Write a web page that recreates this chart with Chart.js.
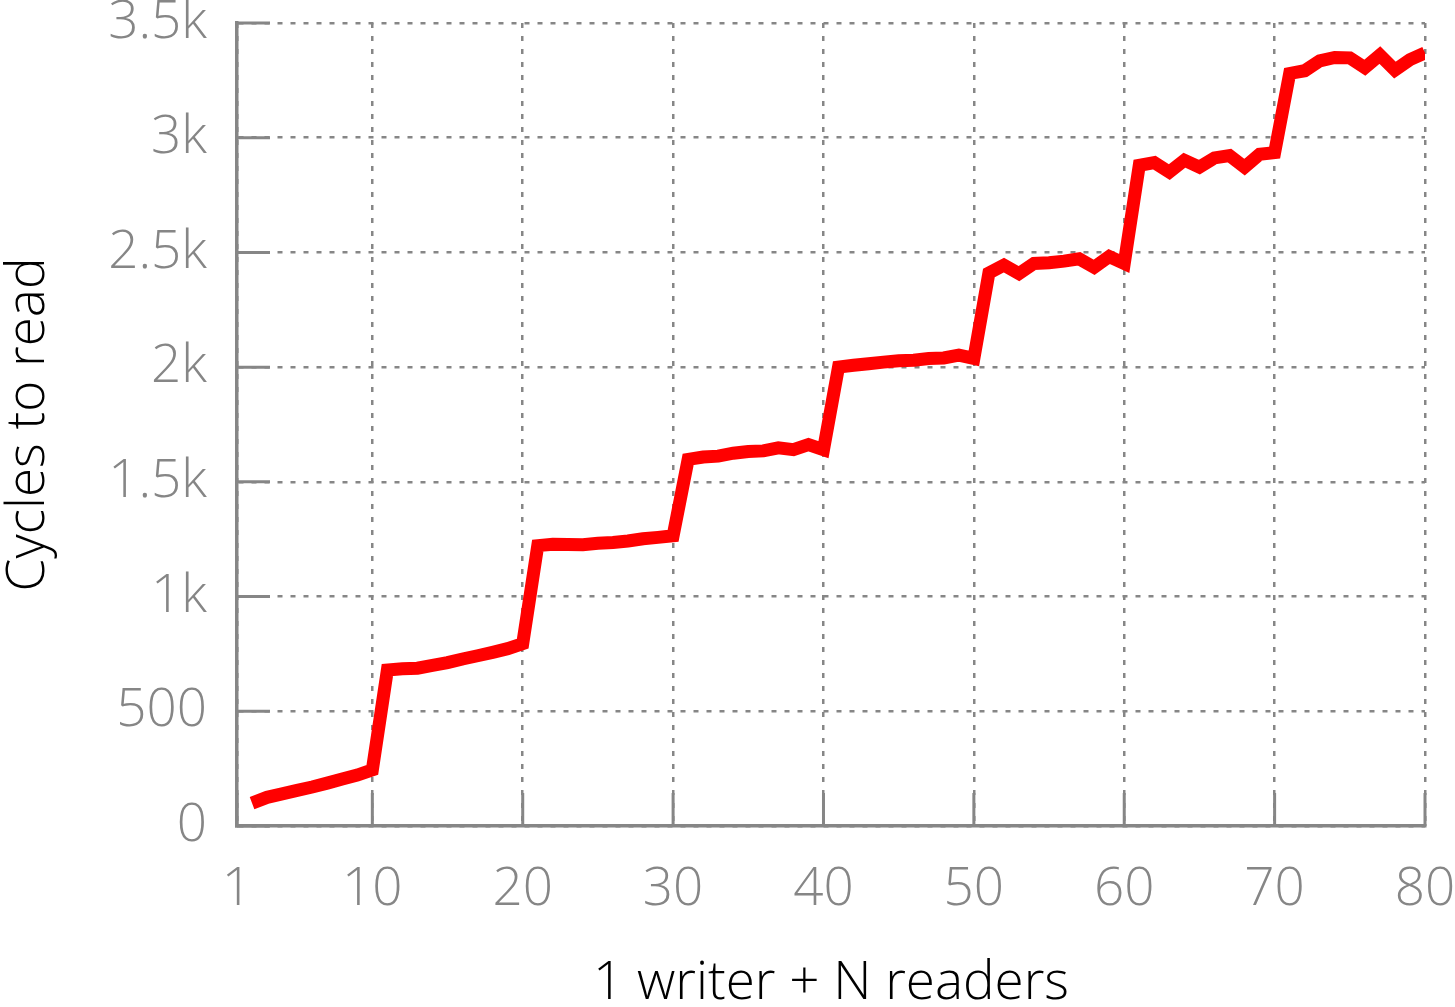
<!DOCTYPE html>
<html>
<head>
<meta charset="utf-8">
<script src="https://cdn.jsdelivr.net/npm/chart.js@4"></script>
<style>
  body { margin: 0; background: #fff; }
  canvas { display: block; }
</style>
</head>
<body>
<canvas id="chart" width="1455" height="1007"></canvas>
<script>
// readers count (x) and cycles to read (y)
const readers = [
    2, 3, 4, 5, 6, 7, 8, 9, 10,
    11, 12, 13, 14, 15, 16, 17, 18, 19, 20,
    21, 22, 23, 24, 25, 26, 27, 28, 29, 30,
    31, 32, 33, 34, 35, 36, 37, 38, 39, 40,
    41, 42, 43, 44, 45, 46, 47, 48, 49, 50,
    51, 52, 53, 54, 55, 56, 57, 58, 59, 60,
    61, 62, 63, 64, 65, 66, 67, 68, 69, 70,
    71, 72, 73, 74, 75, 76, 77, 78, 79, 80
];
const cycles = [
    100, 125, 140, 155, 170, 187, 205, 222, 245,
    680, 685, 688, 700, 712, 728, 742, 757, 773, 795,
    1222, 1228, 1227, 1226, 1232, 1236, 1242, 1252, 1258, 1265,
    1598, 1608, 1612, 1625, 1632, 1635, 1648, 1640, 1662, 1640,
    2000, 2008, 2015, 2022, 2028, 2030, 2038, 2040, 2052, 2038,
    2410, 2445, 2408, 2452, 2455, 2462, 2472, 2435, 2482, 2452,
    2880, 2892, 2850, 2902, 2872, 2912, 2922, 2872, 2928, 2935,
    3280, 3292, 3335, 3350, 3348, 3305, 3360, 3295, 3340, 3370
];
const xTicks = [1, 10, 20, 30, 40, 50, 60, 70, 80];
const yTicks = [0, 500, 1000, 1500, 2000, 2500, 3000, 3500];

const gray = '#868686';
const fontFamily = "'Open Sans', 'DejaVu Sans', sans-serif";
const labelFont = { family: fontFamily, size: 53, weight: 300 };

let points = readers.map((n, i) => ({ x: n, y: cycles[i] }));

// short tick marks pointing into the plot area
const innerTicks = {
    id: 'innerTicks',
    afterDatasetsDraw(chart) {
        const ctx = chart.ctx;
        const area = chart.chartArea;
        const xs = chart.scales.x;
        const ys = chart.scales.y;
        const len = 33;
        ctx.save();
        ctx.strokeStyle = gray;
        ctx.lineWidth = 3;
        ctx.beginPath();
        xTicks.forEach(v => {
            const px = xs.getPixelForValue(v);
            ctx.moveTo(px, area.bottom);
            ctx.lineTo(px, area.bottom - len);
        });
        yTicks.forEach(v => {
            const py = ys.getPixelForValue(v);
            ctx.moveTo(area.left, py);
            ctx.lineTo(area.left + len, py);
        });
        ctx.stroke();
        ctx.restore();
    }
};

const ctx = document.getElementById('chart').getContext('2d');
const myChart = new Chart(ctx, {
    type: 'line',
    data: {
        datasets: [{
            label: 'Cycles to read',
            data: points,
            borderColor: '#ff0000',
            borderWidth: 13,
            pointRadius: 0,
            fill: false,
            tension: 0
        }]
    },
    options: {
        responsive: false,
        animation: false,
        layout: { padding: { top: 23, right: 30, left: 0, bottom: 0 } },
        plugins: {
            legend: { display: false },
            tooltip: { enabled: false }
        },
        scales: {
            x: {
                type: 'linear',
                min: 1,
                max: 80,
                afterBuildTicks: scale => {
                    scale.ticks = xTicks.map(v => ({ value: v }));
                },
                afterFit: scale => {
                    scale.height = 181;
                    scale.paddingLeft = 0;
                    scale.paddingRight = 0;
                },
                grid: {
                    color: gray,
                    lineWidth: 2.5,
                    drawTicks: false
                },
                border: { color: gray, width: 3.5, dash: [5, 8] },
                ticks: {
                    color: gray,
                    padding: 32,
                    maxRotation: 0,
                    autoSkip: false,
                    font: labelFont
                },
                title: {
                    display: true,
                    text: '1 writer + N readers',
                    color: '#000',
                    padding: { top: 0, bottom: -9 },
                    font: labelFont
                }
            },
            y: {
                min: 0,
                max: 3500,
                afterBuildTicks: scale => {
                    scale.ticks = yTicks.map(v => ({ value: v }));
                },
                afterFit: scale => {
                    scale.width = 237;
                    scale.paddingTop = 0;
                    scale.paddingBottom = 0;
                },
                grid: {
                    color: gray,
                    lineWidth: 2.5,
                    drawTicks: false
                },
                border: { color: gray, width: 3.5, dash: [5, 8] },
                ticks: {
                    color: gray,
                    padding: 30,
                    font: labelFont,
                    callback: v => v >= 1000 ? (v / 1000) + 'k' : String(v)
                },
                title: {
                    display: true,
                    text: 'Cycles to read',
                    color: '#000',
                    padding: { top: -3, bottom: 0 },
                    font: labelFont
                }
            }
        }
    },
    plugins: [innerTicks]
});
</script>
</body>
</html>
